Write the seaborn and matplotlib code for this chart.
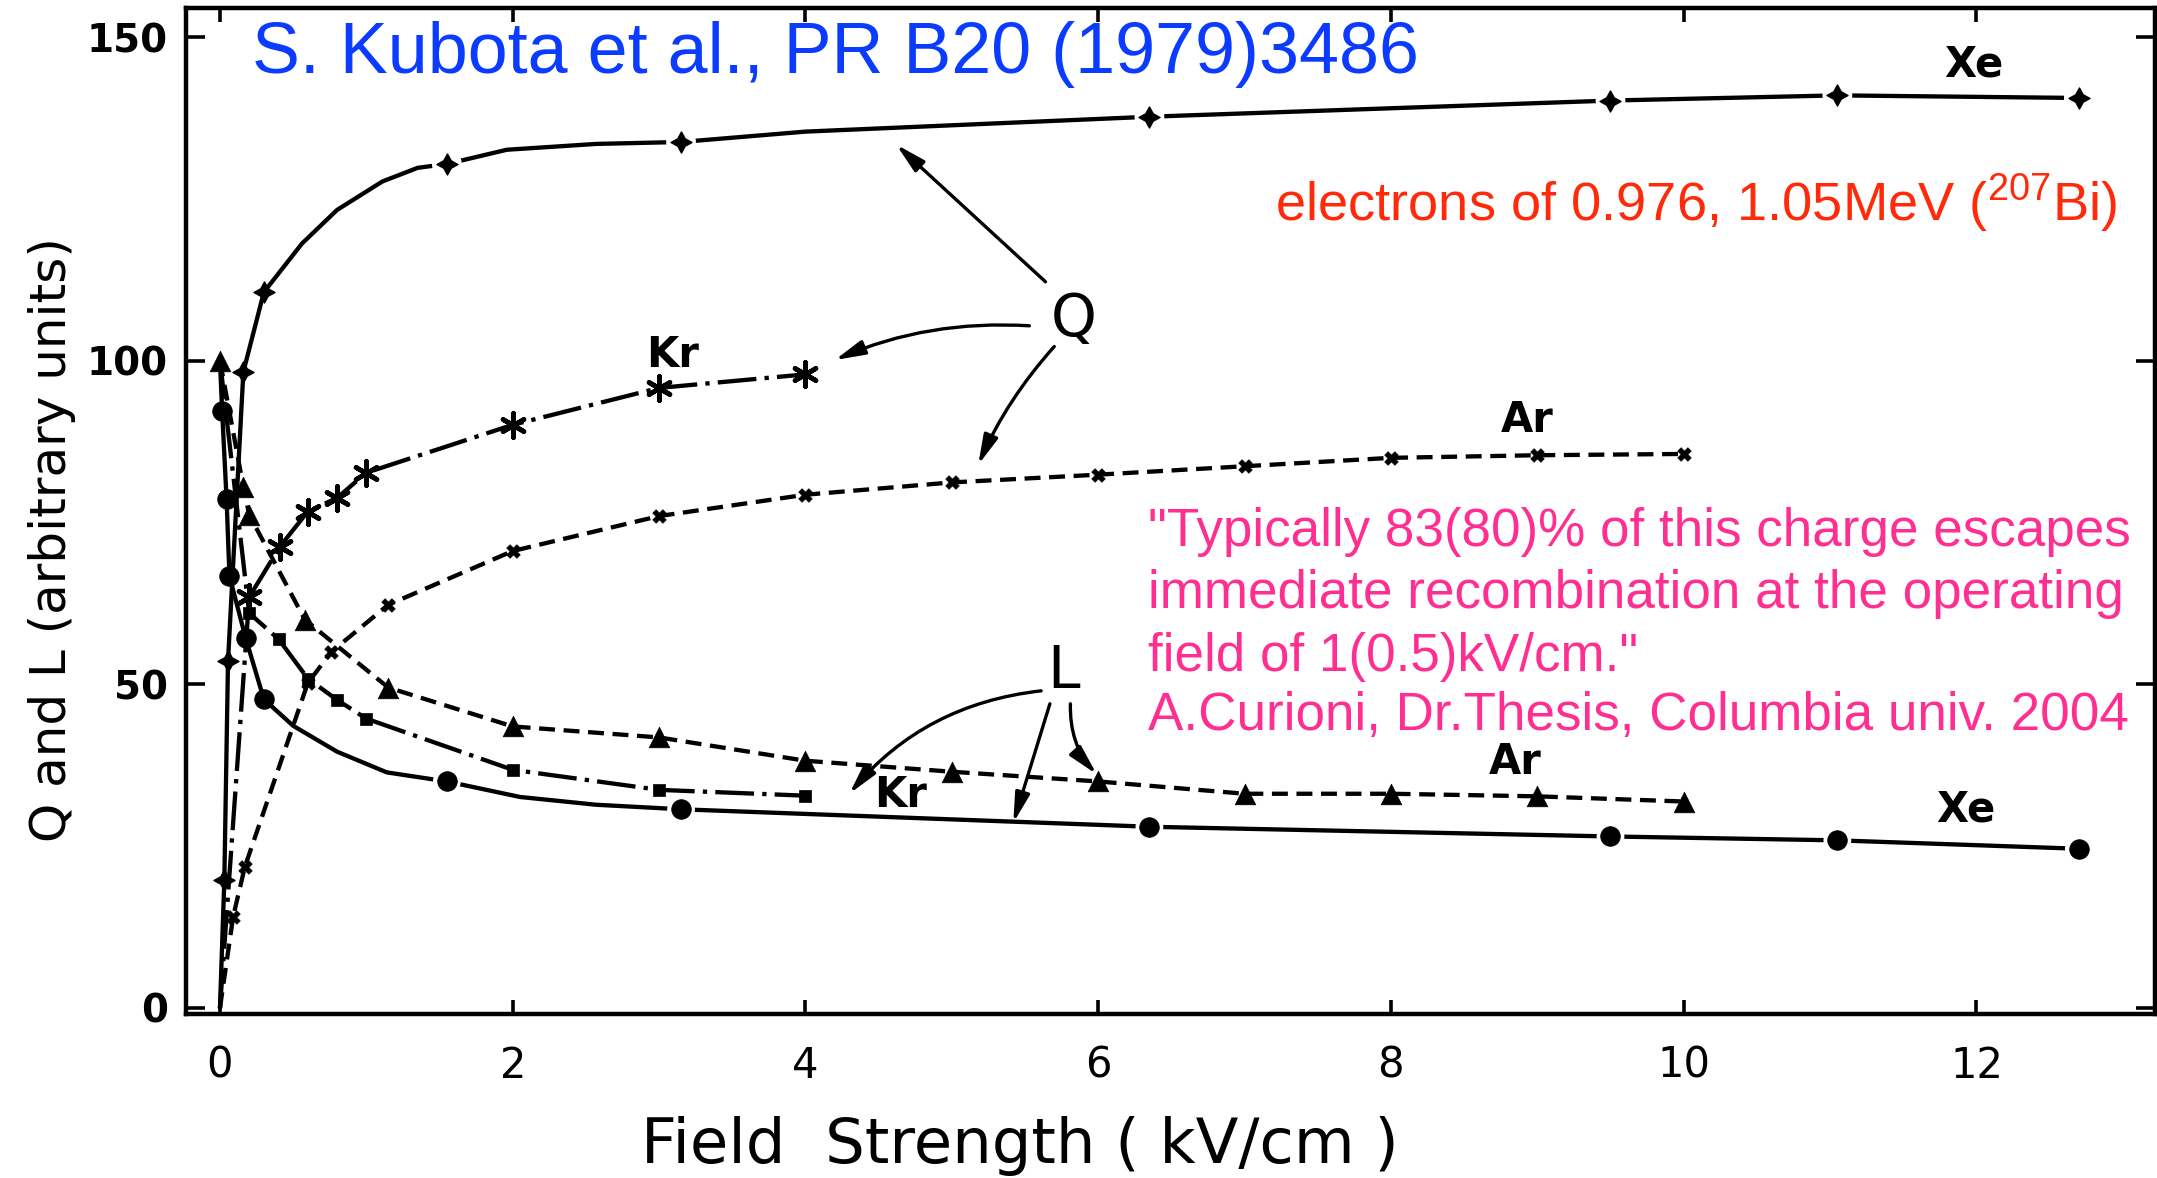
import matplotlib
matplotlib.use("Agg")
import matplotlib.pyplot as plt
import numpy as np
import pandas as pd
import seaborn as sns

# ---- data: charge (Q) and light (L) yields vs. electric field ----
# Xe: measured points and the traced curve through them
xe_q_field = [0.03, 0.055, 0.16, 0.30, 1.55, 3.15, 6.35, 9.5, 11.05, 12.7]
xe_q = [19.8, 53.6, 98.3, 110.6, 130.4, 133.8, 137.7, 140.2, 141.0, 140.6]
xe_q_curve_field = [0.0, 0.03, 0.055, 0.16, 0.30, 0.38, 0.56, 0.80, 1.11, 1.35,
                    1.55, 1.96, 2.57, 3.15, 4.0, 6.35, 9.5, 11.05, 12.7]
xe_q_curve = [0.0, 19.8, 53.6, 98.3, 110.6, 112.9, 118.1, 123.3, 127.7, 129.8,
              130.4, 132.6, 133.5, 133.8, 135.4, 137.7, 140.2, 141.0, 140.6]

xe_l_field = [0.015, 0.045, 0.065, 0.175, 0.30, 1.55, 3.15, 6.35, 9.5, 11.05, 12.7]
xe_l = [92.2, 78.7, 66.7, 57.2, 47.7, 35.0, 30.7, 28.0, 26.5, 25.9, 24.6]
xe_l_curve_field = [0.0, 0.015, 0.045, 0.065, 0.175, 0.30, 0.50, 0.80, 1.14,
                    1.55, 2.05, 2.57, 3.15, 6.35, 9.5, 11.05, 12.7]
xe_l_curve = [100.0, 92.2, 78.7, 66.7, 57.2, 47.7, 43.6, 39.6, 36.4,
              35.0, 32.6, 31.4, 30.7, 28.0, 26.5, 25.9, 24.6]

# Kr
kr_q_field = [0.0, 0.20, 0.41, 0.60, 0.80, 1.0, 2.0, 3.0, 4.0]
kr_q = [0.0, 63.5, 71.3, 76.7, 78.8, 82.7, 90.1, 95.8, 97.9]
kr_l_field = [0.0, 0.20, 0.40, 0.60, 0.80, 1.0, 2.0, 3.0, 4.0]
kr_l = [100.0, 61.0, 57.0, 50.9, 47.6, 44.7, 36.8, 33.7, 32.8]

# Ar
ar_q_field = [0.0, 0.09, 0.17, 0.60, 0.76, 1.15, 2.0, 3.0, 4.0, 5.0, 6.0, 7.0, 8.0, 9.0, 10.0]
ar_q = [0.0, 14.1, 21.8, 50.2, 55.0, 62.3, 70.6, 76.0, 79.3, 81.2, 82.4, 83.7, 85.0, 85.4, 85.6]
ar_l_field = [0.0, 0.16, 0.20, 0.58, 1.15, 2.0, 3.0, 4.0, 5.0, 6.0, 7.0, 8.0, 9.0, 10.0]
ar_l = [100.0, 80.5, 76.2, 60.0, 49.5, 43.5, 41.8, 38.2, 36.5, 35.0, 33.1, 33.1, 32.7, 31.9]

x_ticks = [0, 2, 4, 6, 8, 10, 12]
y_ticks = [0, 50, 100, 150]

title_ref = "S. Kubota et al., PR B20 (1979)3486"
source_note = r"electrons of 0.976, 1.05MeV ($^{\mathrm{207}}$Bi)"
quote_lines = ['"Typically 83(80)% of this charge escapes',
               'immediate recombination at the operating',
               'field of 1(0.5)kV/cm."',
               'A.Curioni, Dr.Thesis, Columbia univ. 2004']

# ---- style ----
sns.set_theme(style="ticks")
plt.rcParams["font.family"] = ["DejaVu Sans"]
plt.rcParams["mathtext.fontset"] = "custom"
plt.rcParams["mathtext.rm"] = "Liberation Sans"
plt.rcParams["axes.linewidth"] = 3.2

W, H = 2157, 1178
fig = plt.figure(figsize=(W / 100, H / 100), dpi=100, facecolor="white")
ax = fig.add_axes([186 / W, 1 - 1014 / H, (2155 - 186) / W, (1014 - 8) / H])
ax.set_facecolor("white")

LW = 3.1
DASHED = (0, (3.7, 2.0))
DASHDOT = (0, (9.0, 1.9, 1.0, 1.9))

series = [
    # line x, line y, marker x, marker y, linestyle, marker, size, edge width
    (xe_q_curve_field, xe_q_curve, xe_q_field, xe_q, "-", (4, 1, 0), 230, 1.0),
    (xe_l_curve_field, xe_l_curve, xe_l_field, xe_l, "-", "o", 200, 0.5),
    (kr_q_field, kr_q, kr_q_field[1:], kr_q[1:], DASHDOT, (6, 2, 0), 300, 3.4),
    (kr_l_field, kr_l, kr_l_field[1:], kr_l[1:], DASHDOT, "s", 70, 0.5),
    (ar_q_field, ar_q, ar_q_field[1:], ar_q[1:], DASHED, "X", 95, 0.5),
    (ar_l_field, ar_l, ar_l_field, ar_l, DASHED, "^", 220, 0.5),
]

for lx, ly, mx, my, ls, mk, s, mew in series:
    line_df = pd.DataFrame({"field": lx, "value": ly})
    pts = pd.DataFrame({"field": mx, "value": my})
    sns.lineplot(data=line_df, x="field", y="value", ax=ax, color="black", lw=LW,
                 linestyle=ls, sort=False, estimator=None, zorder=2)
    far = pts[pts["field"] >= 1.0]
    if len(far) and ls == "-":
        # small white gap in the line around each marker
        sns.scatterplot(data=far, x="field", y="value", ax=ax, marker="o",
                        s=s * 2.0, color="white", edgecolor="none",
                        zorder=3, legend=False)
    sns.scatterplot(data=pts, x="field", y="value", ax=ax, marker=mk, s=s,
                    color="black", edgecolor="black", linewidth=mew,
                    zorder=4, legend=False)

# ---- axes ----
ax.set_xlim(-0.232, 13.22)
ax.set_ylim(-0.93, 154.5)
ax.set_xticks(x_ticks)
ax.set_yticks(y_ticks)
ax.set_xticklabels([str(v) for v in x_ticks], fontsize=30)
ax.set_yticklabels([str(v) for v in y_ticks], fontsize=28, fontweight="bold")
for sp in ax.spines.values():
    sp.set_visible(True)
    sp.set_linewidth(3.2)
    sp.set_color("black")
ax.tick_params(axis="x", direction="in", top=True, bottom=True, length=10,
               width=2.6, pad=22, colors="black")
ax.tick_params(axis="y", direction="in", left=True, right=True, length=14,
               width=2.6, pad=13, colors="black")
ax.grid(False)

ax.set_xlabel("Field  Strength ( kV/cm )", fontsize=45, color="black")
ax.xaxis.label.set_va("center")
ax.xaxis.set_label_coords(0.4236, -0.131)
ax.set_ylabel("Q and L (arbitrary units)", fontsize=36, color="black")
ax.yaxis.label.set_va("center")
ax.yaxis.set_label_coords(-0.068, 0.472)

# ---- curve labels ----
lab = dict(fontsize=30, fontweight="bold", ha="center", va="center", color="black")
ax.text(11.98, 145.7, "Xe", **lab)
ax.text(3.09, 100.9, "Kr", **lab)
ax.text(8.93, 90.9, "Ar", **lab)
ax.text(8.85, 38.0, "Ar", **lab)
ax.text(4.65, 32.9, "Kr", **lab)
ax.text(11.93, 30.6, "Xe", **lab)

ax.text(5.83, 106.4, "Q", fontsize=42, ha="center", va="center", color="black")
ax.text(5.76, 52.0, "L", fontsize=42, ha="center", va="center", color="black")

def arrow(tail, tip, rad=0.0):
    ax.annotate("", xy=tip, xytext=tail,
                arrowprops=dict(arrowstyle="-|>,head_length=0.9,head_width=0.22",
                                lw=2.4, color="black", shrinkA=0, shrinkB=0,
                                mutation_scale=20,
                                connectionstyle=f"arc3,rad={rad}"),
                zorder=5)

arrow((5.64, 112.2), (4.62, 133.4))
arrow((5.53, 105.4), (4.20, 100.1), 0.12)
arrow((5.70, 102.2), (5.18, 83.9), 0.08)
arrow((5.61, 49.0), (4.30, 33.1), 0.2)
arrow((5.67, 47.0), (5.42, 28.6))
arrow((5.81, 47.0), (5.99, 36.1), 0.2)

# ---- notes ----
note = dict(family=["Liberation Sans", "DejaVu Sans"], ha="left", va="baseline")
t_blue = ax.text(0.22, 144.4, title_ref, color="#0A3BFF", fontsize=52, **note)
t_red = ax.text(7.21, 121.7, source_note, color="#FF2A0A", fontsize=30, **note)
pink_y = [71.4, 61.8, 52.0, 42.9]
t_pink = [ax.text(6.34, yy, line, color="#FF2F92", fontsize=30, **note)
          for yy, line in zip(pink_y, quote_lines)]

fig.canvas.draw()
r = fig.canvas.get_renderer()

def fit(t, width_px):
    w = t.get_window_extent(r).width
    t.set_fontsize(t.get_fontsize() * width_px / w)

fit(t_blue, 1168)
fit(t_red, 842)
fit(t_pink[0], 981)
for t in t_pink[1:]:
    t.set_fontsize(t_pink[0].get_fontsize())

fig.savefig("out.png", dpi=100, facecolor="white")
